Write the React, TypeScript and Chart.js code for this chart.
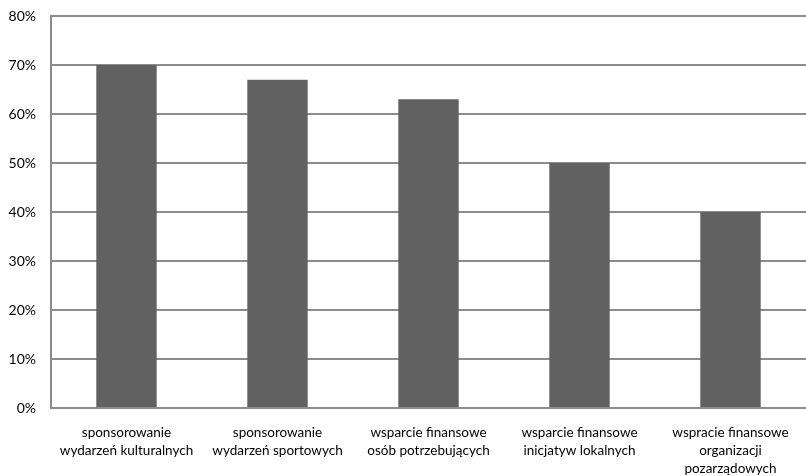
import React, { useEffect, useRef } from "react";
import { Chart, registerables } from "chart.js";

Chart.register(...registerables);

const categories: string[][] = [
  ["sponsorowanie", "wydarzeń kulturalnych"],
  ["sponsorowanie", "wydarzeń sportowych"],
  ["wsparcie finansowe", "osób potrzebujących"],
  ["wsparcie finansowe", "inicjatyw lokalnych"],
  ["wspracie finansowe", "organizacji", "pozarządowych"],
];
const values: number[] = [70, 67, 63, 50, 40];
const yTicks: number[] = [0, 10, 20, 30, 40, 50, 60, 70, 80];

const W = 806;
const H = 492;
const FONT = "Lato";

export default function App() {
  const ref = useRef<HTMLCanvasElement>(null);
  useEffect(() => {
    if (!ref.current) return;
    const chart = new Chart(ref.current, {
      type: "bar",
      data: {
        labels: categories,
        datasets: [
          {
            data: values,
            backgroundColor: "#616161",
            borderWidth: 0,
            categoryPercentage: 1,
            barPercentage: 0.4,
          },
        ],
      },
      options: {
        responsive: false,
        animation: false,
        devicePixelRatio: 1,
        layout: { padding: { top: 16, right: 0, left: 0, bottom: 0 } },
        plugins: { legend: { display: false }, tooltip: { enabled: false } },
        scales: {
          x: {
            grid: { display: false, drawTicks: false },
            border: { display: false },
            ticks: {
              color: "#000",
              font: { family: FONT, size: 13.5, lineHeight: 1.33 },
              padding: 16,
              maxRotation: 0,
              autoSkip: false,
            },
            afterFit: (s: any) => {
              s.height = H - 408;
            },
          },
          y: {
            min: 0,
            max: 80,
            afterBuildTicks: (s: any) => {
              s.ticks = yTicks.map((v) => ({ value: v }));
            },
            grid: {
              color: "#8c8c8c",
              lineWidth: 2,
              drawTicks: true,
              tickLength: 15,
              tickColor: "rgba(0,0,0,0)",
            },
            border: { display: true, color: "#8c8c8c", width: 2 },
            ticks: {
              color: "#000",
              font: { family: FONT, size: 14 },
              padding: 0,
              callback: (v: any) => v + "%",
            },
            afterFit: (s: any) => {
              s.width = 51;
            },
          },
        },
      },
    });
    return () => chart.destroy();
  }, []);
  return (
    <div
      style={{
        position: "fixed",
        left: 0,
        top: 0,
        width: W,
        height: 476,
        overflow: "hidden",
        background: "#fff",
      }}
    >
      <canvas ref={ref} width={W} height={H} style={{ display: "block" }} />
    </div>
  );
}
